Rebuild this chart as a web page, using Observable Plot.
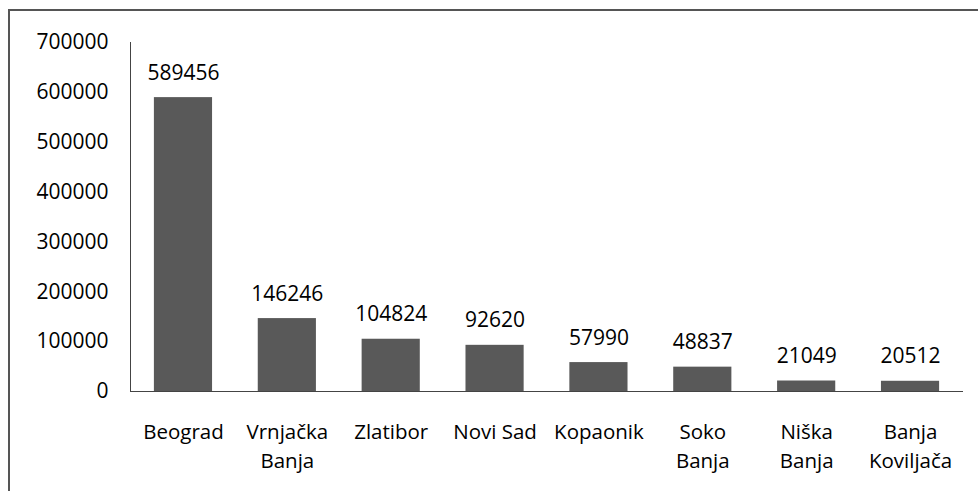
<!DOCTYPE html>
<html>
<head>
<meta charset="utf-8">
<script src="https://cdn.jsdelivr.net/npm/d3@7"></script>
<script src="https://cdn.jsdelivr.net/npm/@observablehq/plot@0.6"></script>
<style>
  html, body { margin: 0; padding: 0; background: #fff; }
  #wrap { position: relative; width: 978px; height: 491px; overflow: hidden; }
  #frame { position: absolute; left: 8px; top: 9px; width: 990px; height: 500px;
           border-left: 2px solid #555; border-top: 2px solid #555; pointer-events: none; }
  #chart { position: absolute; left: 0; top: 0; }
</style>
</head>
<body>
<div id="wrap"><div id="chart"></div><div id="frame"></div></div>
<script>
const categories = ["Beograd", "Vrnjačka Banja", "Zlatibor", "Novi Sad", "Kopaonik", "Soko Banja", "Niška Banja", "Banja Koviljača"];
const tickLabels = ["Beograd", "Vrnjačka\nBanja", "Zlatibor", "Novi Sad", "Kopaonik", "Soko\nBanja", "Niška\nBanja", "Banja\nKoviljača"];
const values = [589456, 146246, 104824, 92620, 57990, 48837, 21049, 20512];
const yTicks = [0, 100000, 200000, 300000, 400000, 500000, 600000, 700000];

const data = categories.map((c, i) => ({name: c, value: values[i], label: tickLabels[i]}));
const labelOf = new Map(data.map(d => [d.name, d.label]));

const chart = Plot.plot({
  width: 978,
  height: 491,
  marginLeft: 130,
  marginRight: 15,
  marginTop: 42,
  marginBottom: 100,
  style: {fontFamily: "'Open Sans', sans-serif", fontSize: "20px", color: "#000", background: "transparent"},
  x: {domain: categories, paddingInner: 0.44, paddingOuter: 0.23, round: false, label: null},
  y: {domain: [0, 700000], label: null},
  marks: [
    Plot.barY(data, {x: "name", y: "value", fill: "#595959"}),
    Plot.frame({anchor: "left", stroke: "#444"}),
    Plot.ruleY([0], {stroke: "#444"}),
    Plot.text(data, {x: "name", y: "value", text: d => String(d.value), lineAnchor: "bottom", dy: -18, fontSize: 21, fill: "#000"}),
    Plot.axisY({ticks: yTicks, tickSize: 0, tickPadding: 22, tickFormat: d => String(d), fontSize: 21, fill: "#000", label: null}),
    Plot.axisX({tickSize: 0, tickPadding: 27, tickFormat: d => labelOf.get(d), lineHeight: 1.4, fontSize: 20.5, fill: "#000", label: null})
  ]
});
document.getElementById("chart").appendChild(chart);
</script>
</body>
</html>
